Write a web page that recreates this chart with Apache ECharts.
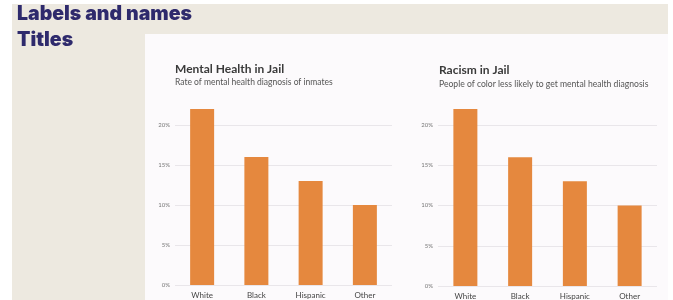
<!DOCTYPE html>
<html><head><meta charset="utf-8">
<script src="https://cdn.jsdelivr.net/npm/echarts@6/dist/echarts.min.js"></script>
<style>html,body{margin:0;padding:0;background:#fff}#c{width:673px;height:300px}</style>
</head><body><div id="c"></div>
<script>
const categories = ['White', 'Black', 'Hispanic', 'Other'];
const mentalHealthRates = [22, 16, 13, 10];
const racismRates = [22, 16, 13, 10];
const yTicks = [0, 5, 10, 15, 20];

const chart = echarts.init(document.getElementById('c'), null, {renderer: 'canvas'});
const barColor = '#E5883E';
const font = 'Lato, "Open Sans", sans-serif';

function xAxis(gi) {
  return {
    type: 'category', gridIndex: gi, data: categories,
    axisLine: {show: false}, axisTick: {show: false},
    axisLabel: {color: '#444', fontSize: 8, fontFamily: font, margin: 6}
  };
}
function yAxis(gi) {
  return {
    type: 'value', gridIndex: gi, min: yTicks[0], max: yTicks[yTicks.length - 1], interval: 5,
    axisLine: {show: false}, axisTick: {show: false},
    axisLabel: {color: '#777', fontSize: 6, fontFamily: font, margin: 5, formatter: '{value}%'},
    splitLine: {lineStyle: {color: '#e9e6ea', width: 1}}
  };
}

chart.setOption({
  animation: false,
  graphic: [
    {type: 'rect', shape: {x: 12, y: 4, width: 656, height: 296}, style: {fill: '#EDE9E0'}, z: -10},
    {type: 'rect', shape: {x: 145, y: 34, width: 523, height: 266}, style: {fill: '#FCFAFC'}, z: -9},
    {type: 'text', x: 17, y: 14, style: {text: 'Labels and names', fill: '#2E2A6C', verticalAlign: 'middle', font: '900 19.5px Inter, sans-serif'}},
    {type: 'text', x: 17, y: 40, style: {text: 'Titles', fill: '#2E2A6C', verticalAlign: 'middle', font: '900 19.5px Inter, sans-serif'}}
  ],
  title: [
    {text: 'Mental Health in Jail', subtext: 'Rate of mental health diagnosis of inmates',
     left: 175, top: 63, itemGap: 3, padding: 0,
     textStyle: {fontSize: 12, fontWeight: 'bold', color: '#3a3a3a', fontFamily: font},
     subtextStyle: {fontSize: 8.5, color: '#555', fontFamily: font}},
    {text: 'Racism in Jail', subtext: 'People of color less likely to get mental health diagnosis',
     left: 439, top: 64.5, itemGap: 3, padding: 0,
     textStyle: {fontSize: 12, fontWeight: 'bold', color: '#3a3a3a', fontFamily: font},
     subtextStyle: {fontSize: 8.6, color: '#555', fontFamily: font}}
  ],
  grid: [
    {left: 175, right: 673 - 392, top: 125, height: 160},
    {left: 438, right: 673 - 657, top: 125, height: 162}
  ],
  xAxis: [xAxis(0), xAxis(1)],
  yAxis: [yAxis(0), yAxis(1)],
  series: [
    {type: 'bar', xAxisIndex: 0, yAxisIndex: 0, data: mentalHealthRates, barWidth: 24, clip: false,
     itemStyle: {color: barColor}},
    {type: 'bar', xAxisIndex: 1, yAxisIndex: 1, data: racismRates, barWidth: 24, clip: false,
     itemStyle: {color: barColor}}
  ]
});
</script></body></html>
